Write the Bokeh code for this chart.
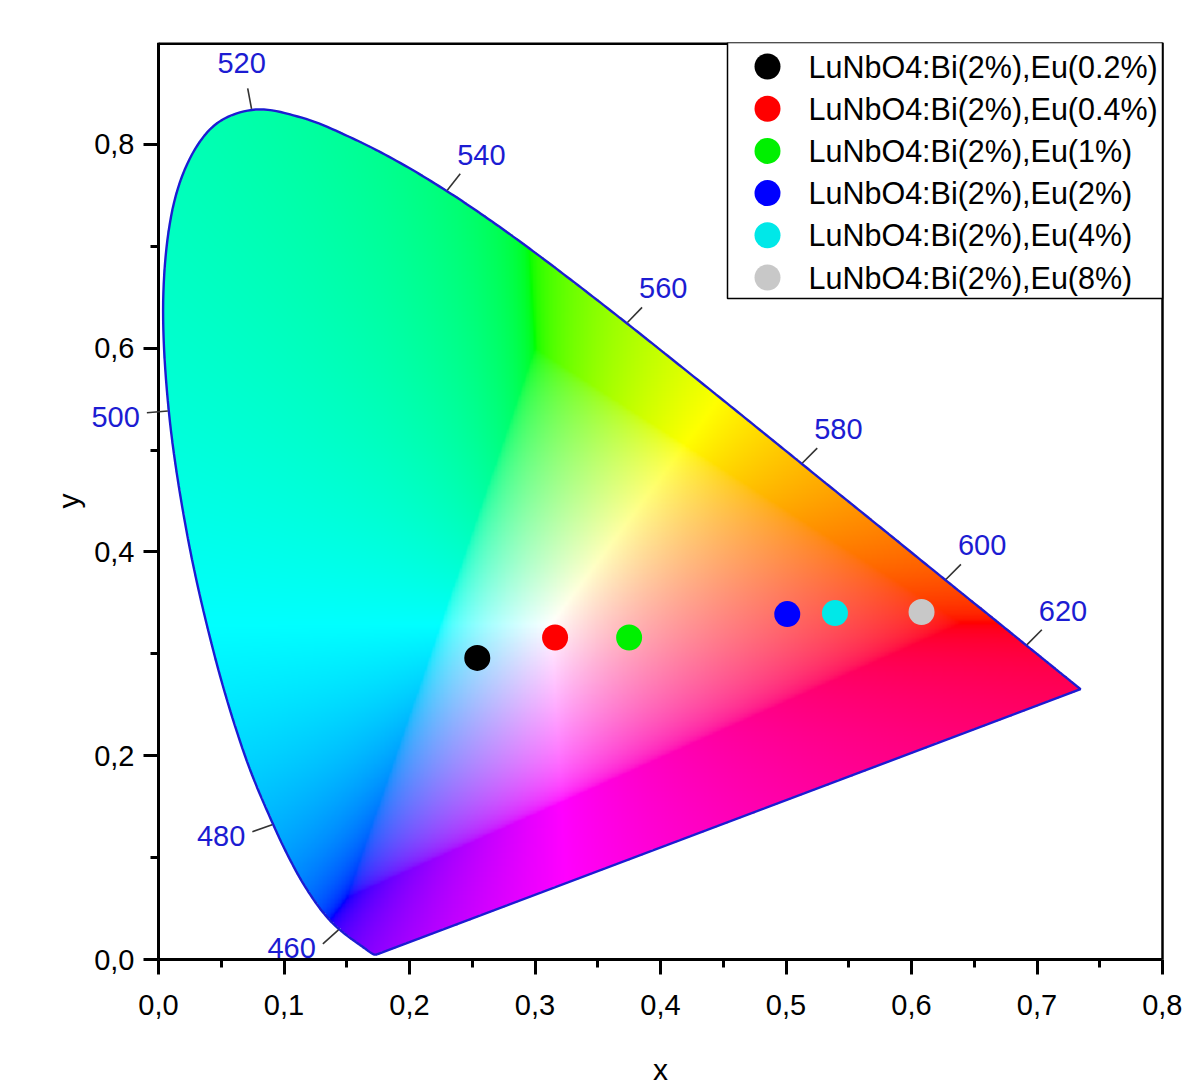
import numpy as np
from bokeh.plotting import figure
from bokeh.models import (Range1d, FixedTicker, CustomJSTickFormatter, LabelSet, Arrow,
                          ColumnDataSource, LinearAxis)
from bokeh.embed import file_html
from bokeh.resources import INLINE
from bokeh.core.properties import value

# ---- CIE 1931 2-degree spectral locus (380..700 nm, 5 nm step) ----
wavelengths = list(range(380, 705, 5))
locus_x = [0.1741, 0.1740, 0.1738, 0.1736, 0.1733, 0.1730, 0.1726, 0.1721, 0.1714, 0.1703,
           0.1689, 0.1669, 0.1644, 0.1611, 0.1566, 0.1510, 0.1440, 0.1355, 0.1241, 0.1096,
           0.0913, 0.0687, 0.0454, 0.0235, 0.0082, 0.0039, 0.0139, 0.0389, 0.0743, 0.1142,
           0.1547, 0.1929, 0.2296, 0.2658, 0.3016, 0.3373, 0.3731, 0.4087, 0.4441, 0.4788,
           0.5125, 0.5448, 0.5752, 0.6029, 0.6270, 0.6482, 0.6658, 0.6801, 0.6915, 0.7006,
           0.7079, 0.7140, 0.7190, 0.7230, 0.7260, 0.7283, 0.7300, 0.7311, 0.7320, 0.7327,
           0.7334, 0.7340, 0.7344, 0.7346, 0.7347]
locus_y = [0.0050, 0.0050, 0.0049, 0.0049, 0.0048, 0.0048, 0.0048, 0.0048, 0.0051, 0.0058,
           0.0069, 0.0086, 0.0109, 0.0138, 0.0177, 0.0227, 0.0297, 0.0399, 0.0578, 0.0868,
           0.1327, 0.2007, 0.2950, 0.4127, 0.5384, 0.6548, 0.7502, 0.8120, 0.8338, 0.8262,
           0.8059, 0.7816, 0.7543, 0.7243, 0.6923, 0.6589, 0.6245, 0.5896, 0.5547, 0.5202,
           0.4866, 0.4544, 0.4242, 0.3965, 0.3725, 0.3514, 0.3340, 0.3197, 0.3083, 0.2993,
           0.2920, 0.2859, 0.2809, 0.2770, 0.2740, 0.2717, 0.2700, 0.2689, 0.2680, 0.2673,
           0.2666, 0.2660, 0.2656, 0.2654, 0.2653]

label_wavelengths = [460, 480, 500, 520, 540, 560, 580, 600, 620]

# ---- samples ----
sample_names = ["LuNbO4:Bi(2%),Eu(0.2%)", "LuNbO4:Bi(2%),Eu(0.4%)", "LuNbO4:Bi(2%),Eu(1%)",
                "LuNbO4:Bi(2%),Eu(2%)", "LuNbO4:Bi(2%),Eu(4%)", "LuNbO4:Bi(2%),Eu(8%)"]
sample_x = [0.254, 0.316, 0.375, 0.501, 0.539, 0.608]
sample_y = [0.296, 0.316, 0.316, 0.339, 0.340, 0.341]
sample_colors = ["#000000", "#ff0000", "#00f000", "#0000ff", "#00e8e8", "#c8c8c8"]

x_major = [0.0, 0.1, 0.2, 0.3, 0.4, 0.5, 0.6, 0.7, 0.8]
x_minor = [0.05, 0.15, 0.25, 0.35, 0.45, 0.55, 0.65, 0.75]
y_major = [0.0, 0.2, 0.4, 0.6, 0.8]
y_minor = [0.1, 0.3, 0.5, 0.7]
x_title, y_title = "x", "y"

X_START, X_END, Y_START, Y_END = 0.0, 0.8, 0.0, 0.9
PLOT_W, PLOT_H = 1004, 917        # visible plotting box in pixels
sx = PLOT_W / (X_END - X_START)   # pixels per data unit
sy = PLOT_H / (Y_END - Y_START)
LEFT_PAD_PX = 148                 # room left of x=0 for y tick labels, 500 nm mark, y title
BOTTOM_PAD_PX = 121               # room below y=0 for x tick labels and x title
RIGHT_PAD_PX = 20                 # room right of x=0.8 for the last x tick label
X_VIEW_START = X_START - LEFT_PAD_PX / sx
X_VIEW_END = X_END + RIGHT_PAD_PX / sx
Y_VIEW_START = Y_START - BOTTOM_PAD_PX / sy
LOCUS_BLUE = "#1c1cd2"


# ---- smooth drawing of the tabulated locus (Catmull-Rom through the table points) ----
def smooth_curve(xv, yv, k=12):
    P = np.column_stack([xv, yv]).astype(float)
    E = np.vstack([2 * P[0] - P[1], P, 2 * P[-1] - P[-2]])
    t = np.linspace(0, 1, k, endpoint=False)[:, None]
    out = []
    for i in range(1, len(E) - 2):
        p0, p1, p2, p3 = E[i - 1], E[i], E[i + 1], E[i + 2]
        pts = 0.5 * (2 * p1 + (-p0 + p2) * t + (2 * p0 - 5 * p1 + 4 * p2 - p3) * t ** 2
                     + (-p0 + 3 * p1 - 3 * p2 + p3) * t ** 3)
        out.append(pts)
    out.append(P[-1:])
    C = np.vstack(out)
    return C[:, 0], C[:, 1]


curve_x, curve_y = smooth_curve(locus_x, locus_y)
poly_x = np.append(curve_x, curve_x[0])
poly_y = np.append(curve_y, curve_y[0])

# ---- colour image of the chromaticity region ----
IX0, IX1, IY0, IY1 = 0.0, 0.75, 0.0, 0.85
NX, NY = 700, 680
xs = IX0 + (np.arange(NX) + 0.5) * (IX1 - IX0) / NX
ys = IY0 + (np.arange(NY) + 0.5) * (IY1 - IY0) / NY
gx, gy = np.meshgrid(xs, ys)

ex0, ey0 = poly_x[:-1], poly_y[:-1]
ex1, ey1 = poly_x[1:], poly_y[1:]
inside = np.zeros(gx.shape, dtype=bool)
for j, yv in enumerate(ys):
    cond = (ey0 > yv) != (ey1 > yv)
    if not cond.any():
        continue
    xi = ex0[cond] + (yv - ey0[cond]) * (ex1[cond] - ex0[cond]) / (ey1[cond] - ey0[cond])
    xi.sort()
    for a, b in zip(xi[0::2], xi[1::2]):
        inside[j] |= (xs >= a) & (xs < b)

yy = np.maximum(gy, 1e-6)
Xc = gx / yy
Zc = (1.0 - gx - gy) / yy
R = 3.2406 * Xc - 1.5372 - 0.4986 * Zc
G = -0.9689 * Xc + 1.8758 + 0.0415 * Zc
B = 0.0557 * Xc - 0.2040 + 1.0570 * Zc
rgb = np.stack([R, G, B], axis=-1)
mn = rgb.min(axis=-1, keepdims=True)
rgb = rgb - np.minimum(mn, 0)          # desaturate out-of-gamut colours by adding white
mx = rgb.max(axis=-1, keepdims=True)
mx[mx == 0] = 1
rgb = np.clip(rgb / mx, 0, 1)
rgb = np.where(rgb <= 0.0031308, 12.92 * rgb, 1.055 * np.power(rgb, 1 / 2.4) - 0.055)
rgb8 = np.clip(rgb * 255 + 0.5, 0, 255).astype(np.uint8)

img = np.zeros((NY, NX), dtype=np.uint32)
view = img.view(dtype=np.uint8).reshape((NY, NX, 4))
view[..., 0] = rgb8[..., 0]
view[..., 1] = rgb8[..., 1]
view[..., 2] = rgb8[..., 2]
view[..., 3] = np.where(inside, 255, 0).astype(np.uint8)

# ---- figure ----
p = figure(frame_width=PLOT_W + LEFT_PAD_PX + RIGHT_PAD_PX, frame_height=PLOT_H + BOTTOM_PAD_PX,
           x_range=Range1d(X_VIEW_START, X_VIEW_END), y_range=Range1d(Y_VIEW_START, Y_END),
           output_backend="svg", toolbar_location=None,
           x_axis_location=None, y_axis_location=None,
           min_border_left=158 - LEFT_PAD_PX, min_border_right=0,
           min_border_top=42, min_border_bottom=131 - BOTTOM_PAD_PX,
           background_fill_color="white", border_fill_color="white")
p.grid.visible = False
p.outline_line_color = None

p.image_rgba(image=[img], x=[IX0], y=[IY0], dw=[IX1 - IX0], dh=[IY1 - IY0])
p.line(poly_x, poly_y, line_color=LOCUS_BLUE, line_width=2.4)

# top and right borders of the plotting box
p.line([X_START, X_END], [Y_END, Y_END], line_color="black", line_width=5)
p.line([X_END, X_END], [Y_START, Y_END], line_color="black", line_width=2.5)

# ---- wavelength ticks and labels ----
TICK_LEN = 22
tick_src = dict(x0=[], y0=[], x1=[], y1=[])
groups = {g: dict(x=[], y=[], t=[]) for g in ("left", "right", "top")}
# label anchor offsets from the tick end, in screen pixels (dx right, dy up)
anchor_px = {"left": (-7, -4), "right": (-3, 9), "top": (-6, 15)}
for w in label_wavelengths:
    i = wavelengths.index(w)
    dx = locus_x[i + 1] - locus_x[i - 1]
    dy = locus_y[i + 1] - locus_y[i - 1]
    nn = np.hypot(dx, dy)
    nxv, nyv = -dy / nn, dx / nn
    ex = locus_x[i] + nxv * TICK_LEN / sx
    ey = locus_y[i] + nyv * TICK_LEN / sy
    tick_src["x0"].append(locus_x[i] + nxv * 1.0 / sx)
    tick_src["y0"].append(locus_y[i] + nyv * 1.0 / sy)
    tick_src["x1"].append(ex)
    tick_src["y1"].append(ey)
    g = "top" if nyv > 0.9 else ("left" if nxv < 0 else "right")
    ax_, ay_ = anchor_px[g]
    groups[g]["x"].append(ex + ax_ / sx)
    groups[g]["y"].append(ey + ay_ / sy)
    groups[g]["t"].append(str(w))

p.add_layout(Arrow(end=None, source=ColumnDataSource(tick_src), x_start="x0", y_start="y0",
                   x_end="x1", y_end="y1", line_color="#333333", line_width=1.6))

wl_style = dict(text_font=value("Liberation Sans"), text_font_size="29px", text_color=LOCUS_BLUE)
p.add_layout(LabelSet(x="x", y="y", text="t", source=ColumnDataSource(groups["left"]),
                      text_align="right", text_baseline="middle", **wl_style))
p.add_layout(LabelSet(x="x", y="y", text="t", source=ColumnDataSource(groups["right"]),
                      text_align="left", text_baseline="alphabetic", **wl_style))
p.add_layout(LabelSet(x="x", y="y", text="t", source=ColumnDataSource(groups["top"]),
                      text_align="center", text_baseline="alphabetic", **wl_style))

# ---- sample points ----
p.scatter(sample_x, sample_y, size=26, fill_color=sample_colors, line_color=None)

# ---- legend box (top-right corner of the plotting box, laid out in screen pixels) ----
LEG_W, LEG_H = 435, 256
LEG_ROW0, LEG_PITCH = 24, 42.2
LEG_MARK_X, LEG_TEXT_X = 395, 354   # distances from the box's right edge
leg_left = X_END - LEG_W / sx
leg_bottom = Y_END - LEG_H / sy
p.quad(left=[leg_left], right=[X_END], top=[Y_END], bottom=[leg_bottom],
       fill_color="white", line_color="black", line_width=1.5)
row_y = [Y_END - (LEG_ROW0 + LEG_PITCH * k) / sy for k in range(len(sample_names))]
p.scatter([X_END - LEG_MARK_X / sx] * len(sample_names), row_y, size=26,
          fill_color=sample_colors, line_color=None)
p.text([X_END - LEG_TEXT_X / sx] * len(sample_names), row_y, text=sample_names,
       text_align="left", text_baseline="middle", text_font=value("Liberation Sans"),
       text_font_size="30.5px", text_color="black")

# ---- axes (fixed at x=0 and y=0 of the data) ----
fmt = CustomJSTickFormatter(code="return tick.toFixed(1).replace('.', ',');")
xa = LinearAxis(fixed_location=Y_START, bounds=(X_START, X_END),
                ticker=FixedTicker(ticks=x_major, minor_ticks=x_minor))
ya = LinearAxis(fixed_location=X_START, bounds=(Y_START, Y_END),
                ticker=FixedTicker(ticks=y_major, minor_ticks=y_minor))
p.add_layout(xa, "below")
p.add_layout(ya, "left")

for ax in (xa, ya):
    ax.formatter = fmt
    ax.axis_line_width = 3
    ax.major_tick_line_width = 3
    ax.minor_tick_line_width = 3
    ax.major_tick_in = 0
    ax.major_tick_out = 15
    ax.minor_tick_in = 0
    ax.minor_tick_out = 8
    ax.major_label_text_font = "Liberation Sans"
    ax.major_label_text_font_size = "29px"
    ax.major_label_text_color = "black"
xa.major_label_standoff = 20
ya.major_label_standoff = 9

# axis titles, placed in screen pixels from the plotting box
X_TITLE_DROP_PX = 110       # below y=0
Y_TITLE_SHIFT_PX = 90       # left of x=0
title_style = dict(text_font=value("Liberation Sans"), text_font_size="30px",
                   text_color="black", text_align="center", text_baseline="middle")
p.text([(X_START + X_END) / 2], [Y_START - X_TITLE_DROP_PX / sy], text=[x_title], **title_style)
p.text([X_START - Y_TITLE_SHIFT_PX / sx], [(Y_START + Y_END) / 2], text=[y_title],
       angle=np.pi / 2, **title_style)

open("out.html", "w").write(file_html(p, INLINE))
